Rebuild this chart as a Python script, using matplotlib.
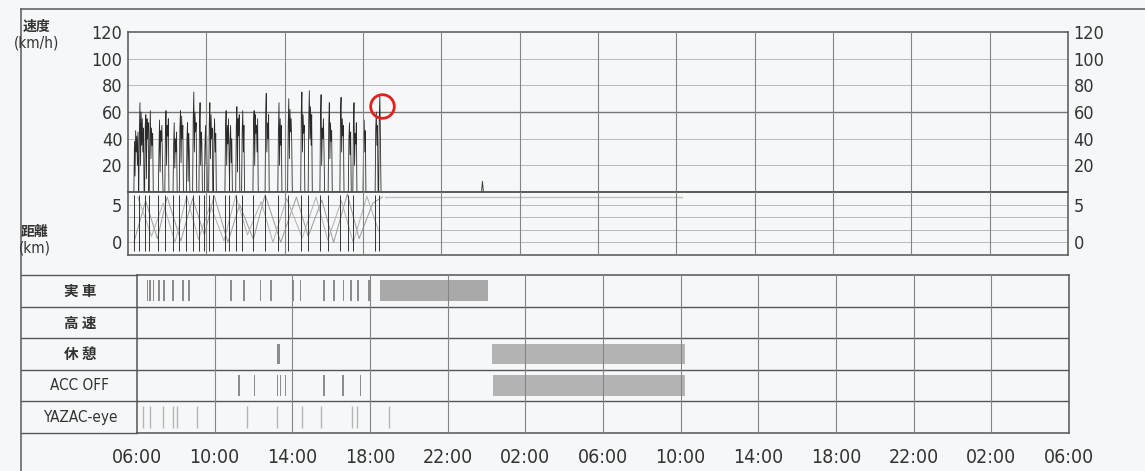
import matplotlib.pyplot as plt
import matplotlib.transforms as mtransforms
import matplotlib.font_manager as fm
from matplotlib.lines import Line2D

plt.rcParams['font.family'] = ['Noto Sans CJK JP', 'DejaVu Sans']

# pick a narrow font for the numbers if one is installed
narrow = None
for f in fm.fontManager.ttflist:
    if f.name in ('Liberation Sans Narrow', 'Roboto Condensed') or \
            (f.stretch in ('condensed', 'semi-condensed') and f.weight in (400, 'normal', 'regular')):
        if 'Italic' in f.fname or 'Oblique' in f.fname or 'Bold' in f.fname:
            continue
        narrow = fm.FontProperties(fname=f.fname)
        break
if narrow is None:
    narrow = fm.FontProperties(family='Liberation Sans')

# Data
time_labels = ['06:00', '10:00', '14:00', '18:00', '22:00', '02:00', '06:00',
               '10:00', '14:00', '18:00', '22:00', '02:00', '06:00']
speed_ticks = [20, 40, 60, 80, 100, 120]
dist_ticks = [0, 5]
dist_grid = [0, 1.67, 3.33, 5.0]

# speed trips: start hour (from 06:00) and speed samples (km/h)
trip_start = [0.30, 0.55, 0.85, 1.08, 1.55, 1.88, 2.30, 2.62, 2.98, 3.30,
              3.62, 3.90, 4.12, 4.36, 4.95, 5.18, 5.50, 5.80, 6.38, 7.00,
              7.65, 8.15, 8.82, 9.20, 9.80, 10.22, 10.82, 11.25, 11.48, 12.00,
              12.62, 12.80]
trip_speeds = [
    [0, 38, 12, 46, 30, 42, 20, 45, 0],
    [0, 45, 67, 20, 60, 35, 55, 30, 48, 0],
    [0, 50, 58, 10, 55, 40, 52, 0],
    [0, 40, 61, 25, 48, 35, 44, 0],
    [0, 30, 54, 15, 46, 38, 50, 22, 0],
    [0, 45, 61, 20, 50, 42, 55, 0],
    [0, 35, 52, 18, 40, 30, 45, 0],
    [0, 48, 61, 22, 57, 40, 50, 0],
    [0, 40, 52, 8, 44, 30, 0],
    [0, 55, 75, 30, 60, 45, 52, 0],
    [0, 50, 67, 20, 45, 38, 0],
    [0, 35, 50, 20, 42, 0],
    [0, 52, 67, 25, 58, 40, 48, 0],
    [0, 40, 55, 30, 44, 0],
    [0, 48, 61, 20, 50, 36, 55, 28, 0],
    [0, 38, 50, 22, 40, 0],
    [0, 50, 64, 15, 55, 42, 58, 0],
    [0, 45, 61, 30, 50, 0],
    [0, 52, 61, 20, 58, 44, 50, 30, 55, 0],
    [0, 60, 74, 30, 52, 40, 58, 0],
    [0, 45, 67, 20, 55, 35, 50, 0],
    [0, 50, 70, 25, 62, 45, 55, 38, 0],
    [0, 62, 75, 30, 58, 44, 50, 0],
    [0, 55, 76, 40, 64, 35, 58, 0],
    [0, 58, 73, 20, 48, 40, 55, 30, 0],
    [0, 50, 67, 25, 52, 38, 46, 0],
    [0, 60, 71, 30, 55, 42, 50, 0],
    [0, 40, 52, 28, 45, 0],
    [0, 50, 67, 20, 44, 36, 52, 0],
    [0, 38, 54, 30, 46, 0],
    [0, 48, 60, 35, 50, 0],
    [0, 55, 73, 40, 0],
]
blip_t = [18.05, 18.10, 18.15]
blip_v = [0, 8, 0]

dist_t = [0.3, 0.9, 1.5, 2.0, 2.7, 3.3, 3.9, 4.4, 5.1, 5.7, 6.4, 7.0,
          7.8, 8.6, 9.2, 9.9, 10.5, 11.2, 11.8, 12.5, 13.0]
dist_v = [0.0, 5.5, 0.5, 6.0, 0.2, 5.8, 1.0, 6.2, 0.0, 5.0, 0.4, 6.3,
          0.0, 6.0, 0.8, 5.6, 0.0, 6.4, 0.5, 5.2, 6.0]
dist2_t = [0.5, 1.2, 1.8, 2.4, 3.0, 3.6, 4.2, 4.9, 5.5, 6.1, 6.8, 7.4,
           8.1, 8.9, 9.6, 10.2, 10.9, 11.5, 12.2, 12.8]
dist2_v = [6.0, 0.8, 5.2, 0.0, 6.1, 0.4, 5.0, 0.2, 6.2, 1.0, 5.4, 0.0,
           5.8, 0.6, 6.0, 0.3, 5.5, 0.0, 6.1, 1.5]
idle_dist_t = [13.1, 28.3]
idle_dist_v = [6.0, 6.0]

row_names = ['実 車', '高 速', '休 憩', 'ACC OFF', 'YAZAC-eye']
jissha_start = [0.51, 0.62, 0.82, 1.08, 1.34, 1.80, 2.32, 2.63, 4.00, 4.79,
                5.46, 6.33, 6.85, 8.03, 8.39, 9.58, 10.10, 10.60, 10.97,
                11.33, 11.90, 12.50]
jissha_width = [0.08] * 21 + [5.6]
kyukei_start = [7.20, 18.30]
kyukei_width = [0.14, 9.90]
acc_start = [5.20, 6.00, 7.20, 7.36, 7.60, 9.58, 10.56, 11.48, 18.35]
acc_width = [0.08] * 8 + [9.85]
yazac_t = [0.30, 0.67, 1.34, 1.85, 2.06, 3.10, 5.66, 7.20, 8.50, 9.50,
           11.07, 11.33, 13.00]

# build speed series
speed_t = []
speed_v = []
for st, sp in zip(trip_start, trip_speeds):
    for i, v in enumerate(sp):
        speed_t.append(st + i * 0.03)
        speed_v.append(v)

fig = plt.figure(figsize=(11.45, 4.71), dpi=100)
fig.patch.set_facecolor('#f6f7f8')
W, H = 1145, 471

def box(x0, y0, x1, y1):
    return [x0 / W, 1 - y1 / H, (x1 - x0) / W, (y1 - y0) / H]

ax_s = fig.add_axes(box(128, 32, 1068, 192))
ax_d = fig.add_axes(box(128, 192, 1068, 255))
ax_r = fig.add_axes(box(137, 275, 1069, 433))

txt = '#333333'
for ax in (ax_s, ax_d, ax_r):
    ax.set_facecolor('none')
    ax.set_xlim(0, 48)
    for sp in ax.spines.values():
        sp.set_color('#555555')
        sp.set_linewidth(1.1)
    for x in range(4, 48, 4):
        ax.axvline(x, color='#858585', lw=0.8, zorder=4)

# speed panel
ax_s.set_ylim(0, 120)
for y in speed_ticks[:-1]:
    ax_s.axhline(y, color='#777777' if y == 60 else '#b0b0b0',
                 lw=1.0 if y == 60 else 0.6, zorder=1)
ax_s.plot(speed_t, speed_v, color='#2a2a2a', lw=0.6, zorder=3)
ax_s.plot(blip_t, blip_v, color='#444444', lw=0.7, zorder=3)
ax_s.plot([12.97], [64.5], marker='o', ms=17, mfc='none', mec='#e3201c',
          mew=2, zorder=5, clip_on=False)
ax_s.set_xticks([])
ax_s.set_yticks(speed_ticks)
ax_s.set_yticklabels([str(v) for v in speed_ticks])
ax_s.tick_params(axis='y', length=0, labelcolor=txt, labelright=True, pad=4)

# distance panel
ax_d.set_ylim(-5 / 3, 20 / 3)
for y in dist_grid:
    ax_d.axhline(y, color='#b0b0b0', lw=0.6, zorder=1)
ax_d.plot(dist_t, dist_v, color='#9a9a9a', lw=0.7, zorder=2)
ax_d.plot(dist2_t, dist2_v, color='#b0b0b0', lw=0.7, zorder=2)
ax_d.vlines(trip_start, -1.2, 6.3, color='#333333', lw=0.7, zorder=3)
ax_d.plot(idle_dist_t, idle_dist_v, color='#c0c0c0', lw=1.0, zorder=2)
ax_d.set_xticks([])
ax_d.set_yticks(dist_ticks)
ax_d.set_yticklabels([str(v) for v in dist_ticks])
ax_d.tick_params(axis='y', length=0, labelcolor=txt, labelright=True, pad=4)

for ax in (ax_s, ax_d):
    for lab in ax.get_yticklabels(which='both'):
        lab.set_fontproperties(narrow)
        lab.set_fontsize(13)

# status rows
ax_r.set_ylim(0, 5)
for y in range(1, 5):
    ax_r.axhline(y, color='#555555', lw=1.0, zorder=2)
bh = 0.66
ax_r.bar(jissha_start, bh, width=jissha_width, bottom=4.17, align='edge',
         color=['#8c8c8c'] * 21 + ['#a9a9a9'], zorder=3)
ax_r.bar(kyukei_start, bh, width=kyukei_width, bottom=2.17, align='edge',
         color=['#8c8c8c', '#b3b3b3'], zorder=3)
ax_r.bar(acc_start, bh, width=acc_width, bottom=1.17, align='edge',
         color=['#8c8c8c'] * 8 + ['#b3b3b3'], zorder=3)
ax_r.vlines(yazac_t, 0.15, 0.85, color='#b5b5b5', lw=1.0, zorder=3)

ax_r.set_yticks([])
ax_r.set_xticks(range(0, 49, 4))
ax_r.set_xticklabels(time_labels)
ax_r.tick_params(axis='x', length=0, labelcolor=txt, pad=11)
for lab in ax_r.get_xticklabels():
    lab.set_fontproperties(narrow)
    lab.set_fontsize(14)

tr = mtransforms.blended_transform_factory(ax_r.transAxes, ax_r.transData)
colx = -116 / 932
for y in range(0, 6):
    ax_r.plot([colx, 0], [y, y], transform=tr, color='#555555', lw=1.0,
              clip_on=False)
for i, name in enumerate(row_names):
    if i < 3:
        ax_r.text(-57 / 932, 4.5 - i, name, transform=tr, ha='center',
                  va='center', color=txt, fontsize=10.5, fontweight='bold')
    else:
        ax_r.text(-57 / 932, 4.5 - i, name, transform=tr, ha='center',
                  va='center', color=txt, fontproperties=narrow, fontsize=11)

# side labels
fig.text(37 / W, 1 - 27 / H, '速度', ha='center', va='center', fontsize=10,
         fontweight='bold', color=txt)
fig.text(37 / W, 1 - 43 / H, '(km/h)', ha='center', va='center',
         fontproperties=narrow, fontsize=11, color=txt)
fig.text(35 / W, 1 - 232 / H, '距離', ha='center', va='center', fontsize=10,
         fontweight='bold', color=txt)
fig.text(35 / W, 1 - 248 / H, '(km)', ha='center', va='center',
         fontproperties=narrow, fontsize=11, color=txt)

# page frame
fig.add_artist(Line2D([21 / W, 1.0], [1 - 9 / H, 1 - 9 / H], color='#666666',
                      lw=1.2))
fig.add_artist(Line2D([21 / W, 21 / W], [0, 1 - 9 / H], color='#666666',
                      lw=1.2))

fig.savefig('out.png', dpi=100, facecolor=fig.get_facecolor())
